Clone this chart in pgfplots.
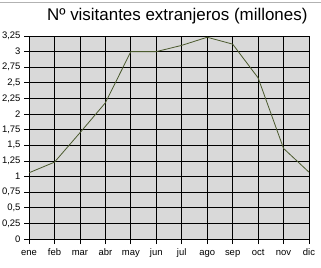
\documentclass[border=0pt]{standalone}
\usepackage{pgfplots}
\pgfplotsset{compat=1.18}
\usepackage{fontspec}
\setmainfont{Liberation Sans}
\definecolor{bgray}{HTML}{D9D9D9}
\definecolor{lineg}{HTML}{4B5A2E}
\begin{document}
\begin{tikzpicture}
\useasboundingbox (0bp,0bp) rectangle (321bp,268bp);
\fill[white] (0bp,0bp) rectangle (321bp,268bp);
\draw[gray!60, line width=0.8bp] (0bp,266bp) -- (321bp,266bp);
\node[anchor=east, font=\fontsize{17}{19}\selectfont] at (311bp,252bp) {Nº visitantes extranjeros (millones)};
\begin{axis}[
  at={(29bp,29bp)}, anchor=south west,
  scale only axis, width=280bp, height=203bp,
  xmin=0, xmax=11, ymin=0, ymax=3.25,
  axis background/.style={fill=bgray},
  xtick={0,...,11},
  xticklabels={ene,feb,mar,abr,may,jun,jul,ago,sep,oct,nov,dic},
  ytick={0,0.25,0.5,0.75,1,1.25,1.5,1.75,2,2.25,2.5,2.75,3,3.25},
  yticklabels={0,{0,25},{0,5},{0,75},1,{1,25},{1,5},{1,75},2,{2,25},{2,5},{2,75},3,{3,25}},
  grid=major,
  grid style={black, line width=0.7bp},
  axis line style={black, line width=0.7bp},
  tick style={black, line width=0.7bp},
  tick align=outside,
  major tick length=5bp,
  xtick pos=bottom, ytick pos=left,
  tick label style={font=\fontsize{9.5}{10}\selectfont},
  xticklabel style={text height=7bp, text depth=2bp, yshift=-1bp},
]
\addplot[lineg, line width=0.8bp, mark=none] coordinates {
(0,1.06) (1,1.23) (2,1.70) (3,2.18) (4,3.00) (5,3.00) (6,3.10) (7,3.23) (8,3.12) (9,2.58) (10,1.45) (11,1.07)
};
\end{axis}
\end{tikzpicture}
\end{document}
